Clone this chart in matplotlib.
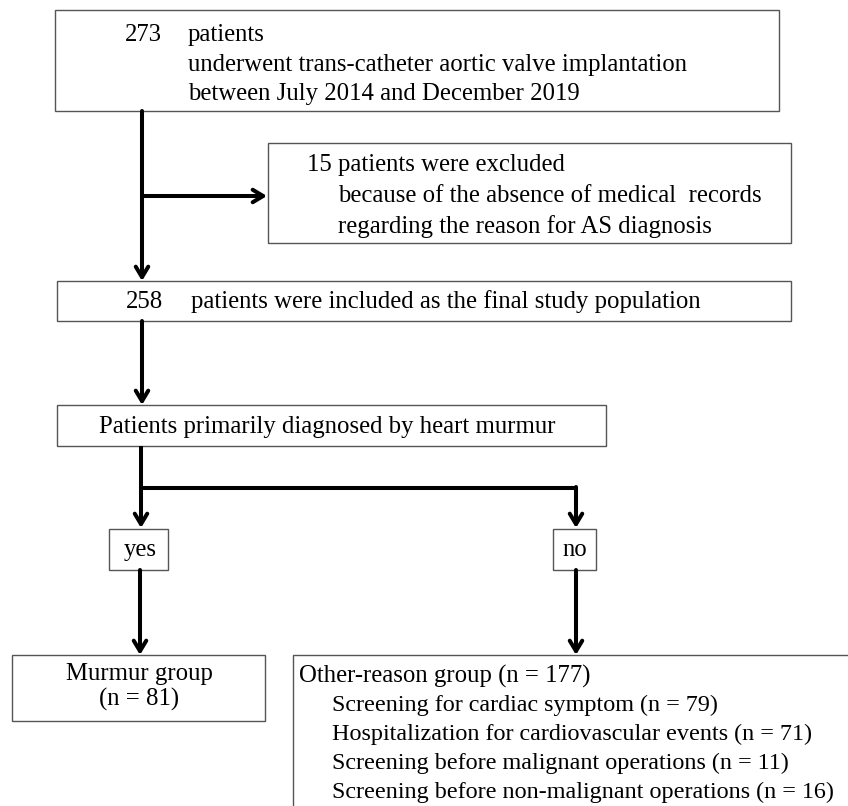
import matplotlib.pyplot as plt
from matplotlib.patches import Rectangle

plt.rcParams["font.family"] = ["Liberation Serif", "DejaVu Serif"]

# counts in the flow
n_total = 273
n_excluded = 15
n_included = 258
n_murmur = 81
n_other = 177
other_labels = ["Screening for cardiac symptom",
                "Hospitalization for cardiovascular events",
                "Screening before malignant operations",
                "Screening before non-malignant operations"]
other_counts = [79, 71, 11, 16]

W, H = 848, 806
fig = plt.figure(figsize=(W / 100, H / 100), dpi=100)
ax = fig.add_axes([0, 0, 1, 1])
ax.set_xlim(0, W)
ax.set_ylim(H, 0)
ax.axis("off")

FS = 17.8
box_kw = dict(facecolor="white", edgecolor="#555555", linewidth=1.0)


def box(x0, y0, x1, y1):
    ax.add_patch(Rectangle((x0, y0), x1 - x0, y1 - y0, **box_kw))


def txt(x, y, s, ha="left", fs=FS):
    ax.text(x, y, s, ha=ha, va="center", fontsize=fs, color="black")


def line(xs, ys):
    ax.plot(xs, ys, color="black", lw=2.9, solid_capstyle="butt",
            solid_joinstyle="miter")


def arrow(x, y0, x1, y1):
    ax.annotate("", xy=(x1, y1), xytext=(x, y0),
                arrowprops=dict(arrowstyle="->,head_length=0.75,head_width=0.45",
                                color="black", lw=2.9, shrinkA=0, shrinkB=0))


# top box
box(55, 10, 779, 111)
txt(125, 35, str(n_total))
txt(188, 35, "patients")
txt(188, 65, "underwent trans-catheter aortic valve implantation")
txt(188, 94, "between July 2014 and December 2019")

# exclusion box
box(268, 143, 791, 243)
txt(307, 165, f"{n_excluded} patients were excluded")
txt(338, 196, "because of the absence of medical  records")
txt(338, 227, "regarding the reason for AS diagnosis")

# main vertical + side arrow
arrow(142, 111, 142, 281)
arrow(142, 196, 267, 196)

# included box
box(57, 281, 791, 321)
txt(126, 302, str(n_included))
txt(191, 302, "patients were included as the final study population")

arrow(142, 321, 142, 405)

# question box
box(57, 405, 606, 446)
txt(327, 427, "Patients primarily diagnosed by heart murmur", ha="center")

# branches
line([141, 141], [446, 488])
line([141, 576], [488, 488])
arrow(141, 486, 141, 528)
arrow(576, 487, 576, 528)

box(109, 529, 168, 570)
txt(140, 550, "yes", ha="center")
box(553, 529, 596, 570)
txt(575, 550, "no", ha="center")

arrow(140, 570, 140, 655)
arrow(576, 570, 576, 655)

# murmur group
box(12, 655, 265, 721)
txt(139, 674, "Murmur group", ha="center")
txt(139, 699, f"(n = {n_murmur})", ha="center")

# other reason group (runs off the page)
box(293, 655, 900, 900)
txt(299, 676, f"Other-reason group (n = {n_other})")
for i, (lab, c) in enumerate(zip(other_labels, other_counts)):
    txt(332, 705 + i * 29.3, f"{lab} (n = {c})", fs=17.4)

fig.savefig("out.png", dpi=100)
